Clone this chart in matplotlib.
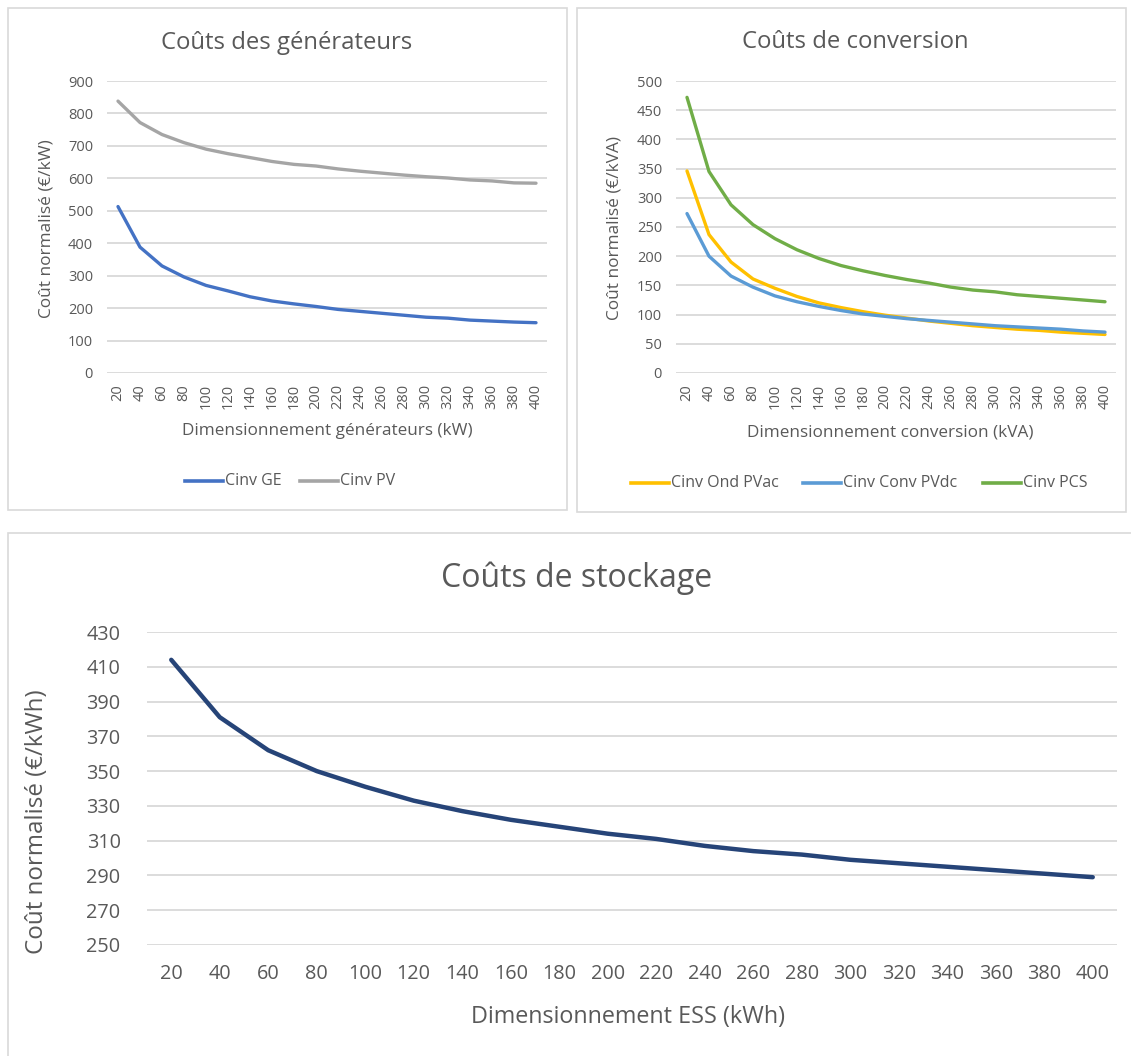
import matplotlib
matplotlib.use("Agg")
import matplotlib.pyplot as plt
from matplotlib.patches import Rectangle
from matplotlib.lines import Line2D

plt.rcParams['font.family'] = ['Open Sans', 'DejaVu Sans']

# data
sizes = [20, 40, 60, 80, 100, 120, 140, 160, 180, 200,
         220, 240, 260, 280, 300, 320, 340, 360, 380, 400]

cinv_ge = [513, 388, 330, 296, 270, 253, 235, 222, 213, 205,
           196, 190, 184, 178, 172, 169, 163, 160, 157, 155]
cinv_pv = [838, 772, 735, 710, 690, 676, 664, 652, 643, 638,
           629, 622, 616, 610, 605, 601, 595, 592, 586, 585]

cinv_ond_pvac = [346, 237, 190, 161, 145, 131, 120, 112, 105, 99,
                 94, 89, 85, 81, 78, 75, 73, 70, 68, 66]
cinv_conv_pvdc = [273, 200, 166, 147, 132, 122, 114, 107, 101, 97,
                  93, 90, 87, 84, 81, 79, 77, 75, 72, 70]
cinv_pcs = [472, 345, 288, 254, 230, 211, 196, 184, 175, 167,
            160, 154, 147, 142, 139, 134, 131, 128, 125, 122]

cinv_ess = [414, 381, 362, 350, 341, 333, 327, 322, 318, 314,
            311, 307, 304, 302, 299, 297, 295, 293, 291, 289]

W, H = 1131, 1056
TXT = '#595959'
GRID = '#D9D9D9'

fig = plt.figure(figsize=(W / 100, H / 100), dpi=100)
fig.patch.set_facecolor('white')


def px_axes(x0, y0, x1, y1):
    return fig.add_axes([x0 / W, 1 - y1 / H, (x1 - x0) / W, (y1 - y0) / H])


def ftext(x, y, s, **kw):
    kw.setdefault('color', TXT)
    kw.setdefault('ha', 'center')
    kw.setdefault('va', 'center')
    fig.text(x / W, 1 - y / H, s, **kw)


def box(x0, y0, x1, y1):
    fig.patches.append(Rectangle((x0 / W, 1 - y1 / H), (x1 - x0) / W, (y1 - y0) / H,
                                 transform=fig.transFigure, fill=False,
                                 edgecolor=GRID, linewidth=1.2))


def style(ax, yticks, fs, rot, ypad):
    idx = list(range(len(sizes)))
    ax.set_xlim(-0.5, len(sizes) - 0.5)
    ax.set_ylim(yticks[0], yticks[-1])
    ax.set_yticks(yticks)
    ax.set_xticks(idx)
    ax.set_xticklabels([str(s) for s in sizes], rotation=rot)
    ax.tick_params(length=0, labelsize=fs, colors=TXT)
    ax.tick_params(axis='x', pad=8)
    ax.tick_params(axis='y', pad=ypad)
    ax.grid(axis='y', color=GRID, linewidth=1.3)
    ax.set_axisbelow(True)
    for sp in ax.spines.values():
        sp.set_visible(False)
    return idx


def legend_item(x, y, color, label, fs):
    fig.lines.append(Line2D([x / W, (x + 38) / W], [1 - y / H, 1 - y / H],
                            transform=fig.transFigure, color=color, linewidth=2.6))
    ftext(x + 40, y, label, ha='left', fontsize=fs)


# panel 1: generators
box(8, 8, 567, 510)
ax1 = px_axes(107, 81, 547, 373)
x = style(ax1, list(range(0, 1000, 100)), 10.5, 90, 10)
ax1.plot(x, cinv_ge, color='#4472C4', linewidth=2.4, solid_capstyle='round')
ax1.plot(x, cinv_pv, color='#A5A5A5', linewidth=2.4, solid_capstyle='round')
ftext(287, 43, 'Coûts des générateurs', fontsize=17.2)
ftext(47, 229, 'Coût normalisé (€/kW)', rotation=90, fontsize=12.4)
ftext(327, 431, 'Dimensionnement générateurs (kW)', fontsize=12.3)
legend_item(185, 481, '#4472C4', 'Cinv GE', 11.5)
legend_item(300, 481, '#A5A5A5', 'Cinv PV', 11.5)

# panel 2: conversion
box(577, 8, 1126, 512)
ax2 = px_axes(676, 81, 1116, 373)
x = style(ax2, list(range(0, 550, 50)), 10.5, 90, 10)
ax2.plot(x, cinv_ond_pvac, color='#FFC000', linewidth=2.4, solid_capstyle='round')
ax2.plot(x, cinv_conv_pvdc, color='#5B9BD5', linewidth=2.4, solid_capstyle='round')
ax2.plot(x, cinv_pcs, color='#70AD47', linewidth=2.4, solid_capstyle='round')
ftext(855, 42, 'Coûts de conversion', fontsize=17.2)
ftext(614, 228, 'Coût normalisé (€/kVA)', rotation=90, fontsize=12.4)
ftext(890, 432, 'Dimensionnement conversion (kVA)', fontsize=12.3)
legend_item(631, 483, '#FFC000', 'Cinv Ond PVac', 11.5)
legend_item(803, 483, '#5B9BD5', 'Cinv Conv PVdc', 11.5)
legend_item(983, 483, '#70AD47', 'Cinv PCS', 11.5)

# panel 3: storage
box(8, 533, 1140, 1065)
ax3 = px_axes(147, 632, 1117, 945)
x = style(ax3, list(range(250, 450, 20)), 14.3, 0, 19)
ax3.tick_params(axis='x', pad=14)
ax3.plot(x, cinv_ess, color='#264478', linewidth=3.2, solid_capstyle='round')
ftext(577, 578, 'Coûts de stockage', fontsize=23)
ftext(37, 822, 'Coût normalisé (€/kWh)', rotation=90, fontsize=17.4)
ftext(628, 1017, 'Dimensionnement ESS (kWh)', fontsize=16.8)

fig.savefig('out.png', dpi=100, facecolor='white')
